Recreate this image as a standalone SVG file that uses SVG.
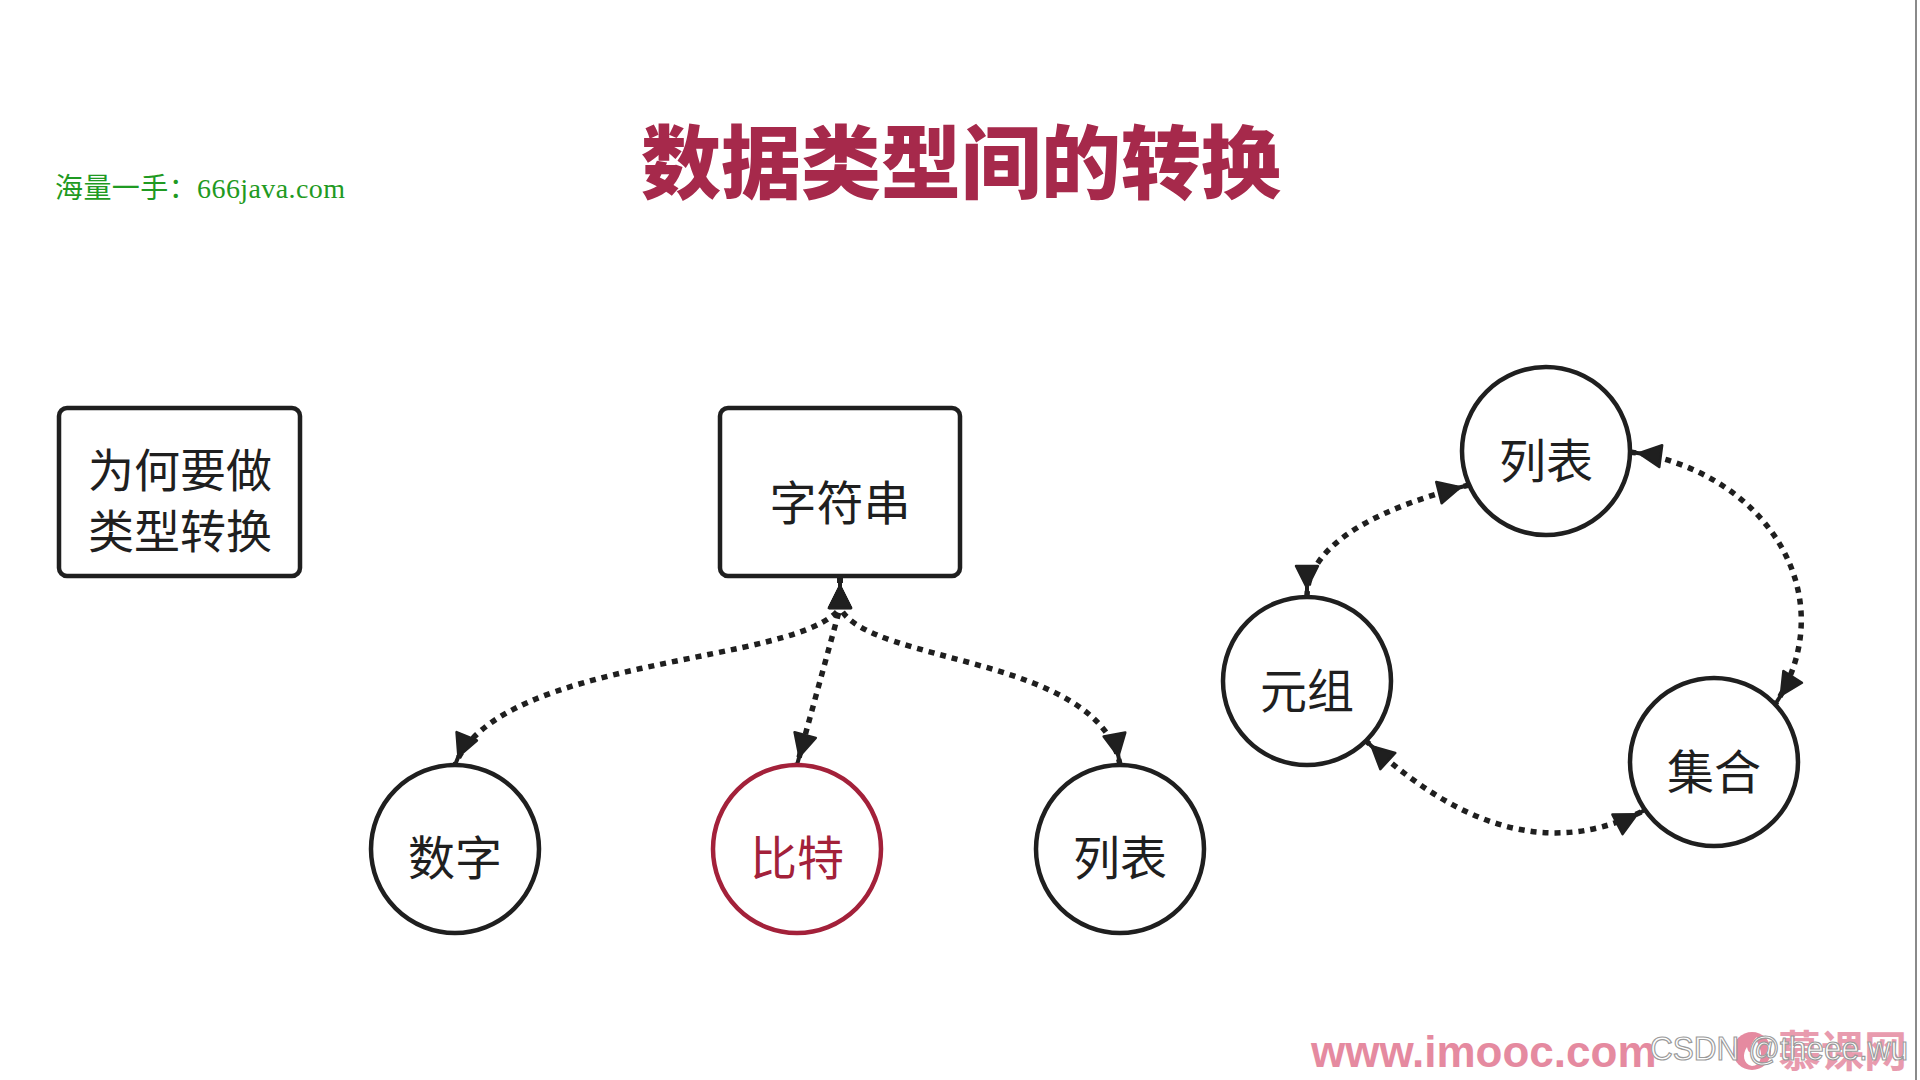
<svg xmlns="http://www.w3.org/2000/svg" width="1920" height="1080" viewBox="0 0 1920 1080">
<style>
  .box { fill: #ffffff; stroke: #1f1f1f; stroke-width: 4.5; }
  .node { fill: #ffffff; stroke: #1f1f1f; stroke-width: 4.5; }
  .node-red { fill: #ffffff; stroke: #a3213a; stroke-width: 4.5; }
  .lbl { font-family: "Noto Sans CJK SC", "Noto Sans", sans-serif; font-size: 47px; fill: #1f1f1f; text-anchor: middle; dominant-baseline: central; }
  .lbl2 { font-size: 46px; }
  .lbl-red { fill: #a3213a; }
  .conn { fill: none; stroke: #1f1f1f; stroke-width: 5.5; stroke-dasharray: 6 6; }
  .title { font-family: "Noto Sans CJK SC", sans-serif; font-size: 80px; font-weight: 900; fill: #a6294b; text-anchor: middle; dominant-baseline: central; }
  .green { font-family: "Liberation Serif", "Noto Sans CJK SC", serif; font-size: 28px; fill: #1f9a22; }
</style>
<defs>
  <marker id="arr" markerUnits="userSpaceOnUse" orient="auto-start-reverse" markerWidth="80" markerHeight="80" refX="0" refY="0" viewBox="-40 -40 80 80" overflow="visible">
    <path d="M 0 0 L -11 0" stroke="#1f1f1f" stroke-width="4" fill="none"/>
    <path d="M -9 0 L -31 -11 L -31 11 Z" fill="#1f1f1f" stroke="#1f1f1f" stroke-width="2.5" stroke-linejoin="round"/>
  </marker>
</defs>
<rect x="0" y="0" width="1920" height="1080" fill="#ffffff"/>
<line x1="1916" y1="0" x2="1916" y2="1080" stroke="#8a8a8a" stroke-width="2"/>

<text class="title" x="961" y="157">数据类型间的转换</text>
<text class="green" x="55" y="198" textLength="290" lengthAdjust="spacing">海量一手：666java.com</text>

<g id="connectors">
  <path class="conn" d="M 840 577 L 840 608 C 800 665, 500 655, 455 765" marker-start="url(#arr)" marker-end="url(#arr)"/>
  <path class="conn" d="M 840 577 L 840 608 L 797 765" marker-start="url(#arr)" marker-end="url(#arr)"/>
  <path class="conn" d="M 840 577 L 840 608 C 870 665, 1100 655, 1120 765" marker-start="url(#arr)" marker-end="url(#arr)"/>
  <path class="conn" d="M 1307 597 C 1307 540, 1390 505, 1469 485" marker-start="url(#arr)" marker-end="url(#arr)"/>
  <path class="conn" d="M 1630 452 C 1765 470, 1845 595, 1776 703" marker-start="url(#arr)" marker-end="url(#arr)"/>
  <path class="conn" d="M 1365 740 C 1430 800, 1530 870, 1645 810" marker-start="url(#arr)" marker-end="url(#arr)"/>
</g>

<g id="node-why">
  <rect class="box" x="59" y="408" width="241" height="168" rx="8"/>
  <text class="lbl lbl2" x="180" y="467">为何要做</text>
  <text class="lbl lbl2" x="180" y="528">类型转换</text>
</g>
<g id="node-string">
  <rect class="box" x="720" y="408" width="240" height="168" rx="8"/>
  <text class="lbl" x="840" y="499">字符串</text>
</g>
<g id="node-number">
  <circle class="node" cx="455" cy="849" r="84"/>
  <text class="lbl" x="455" y="854">数字</text>
</g>
<g id="node-bytes">
  <circle class="node-red" cx="797" cy="849" r="84"/>
  <text class="lbl lbl-red" x="797" y="854">比特</text>
</g>
<g id="node-list-bottom">
  <circle class="node" cx="1120" cy="849" r="84"/>
  <text class="lbl" x="1120" y="854">列表</text>
</g>
<g id="node-list-top">
  <circle class="node" cx="1546" cy="451" r="84"/>
  <text class="lbl" x="1546" y="457">列表</text>
</g>
<g id="node-tuple">
  <circle class="node" cx="1307" cy="681" r="84"/>
  <text class="lbl" x="1307" y="687">元组</text>
</g>
<g id="node-set">
  <circle class="node" cx="1714" cy="762" r="84"/>
  <text class="lbl" x="1714" y="768">集合</text>
</g>

<g id="watermark">
  <text x="1311" y="1067" font-family="Liberation Sans, Arial, sans-serif" font-size="44" font-weight="bold" fill="#e58aa0">www.imooc.com</text>
  <circle cx="1752" cy="1051" r="19" fill="#e58aa0"/>
  <path d="M 1752 1066 C 1743 1064, 1742 1054, 1747 1047 C 1748 1052, 1750 1053, 1751 1052 C 1750 1046, 1753 1040, 1757 1037 C 1756 1044, 1762 1048, 1761 1057 C 1760 1063, 1756 1066, 1752 1066 Z" fill="#ffffff"/>
  <text x="1778" y="1067" font-family="Noto Sans CJK SC, sans-serif" font-size="43" font-weight="bold" fill="#e58aa0" opacity="0.85">慕课网</text>
  <text x="1650" y="1060" font-family="Liberation Sans, Arial, sans-serif" font-size="34" fill="#ffffff" stroke="#9a9a9a" stroke-width="1.2" textLength="258" lengthAdjust="spacingAndGlyphs">CSDN @theee.wu</text>
</g>
</svg>
